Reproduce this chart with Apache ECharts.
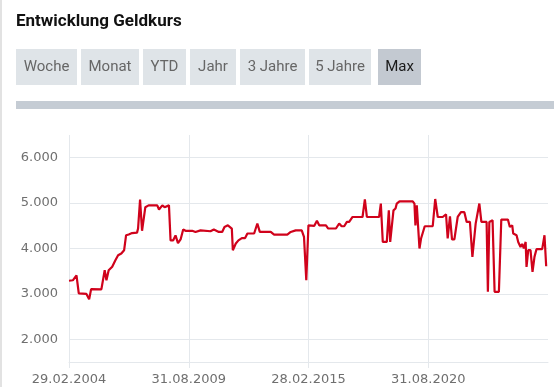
<!DOCTYPE html>
<html><head><meta charset="utf-8">
<script src="https://cdn.jsdelivr.net/npm/echarts@6/dist/echarts.min.js"></script>
<style>html,body{margin:0;padding:0;background:#fff}#c{width:554px;height:387px}</style>
</head><body><div id="c"></div>
<script>
const titleText = 'Entwicklung Geldkurs';
const buttonLabels = ['Woche','Monat','YTD','Jahr','3 Jahre','5 Jahre','Max'];
const activeButton = 'Max';
const xTickLabels = ['29.02.2004','31.08.2009','28.02.2015','31.08.2020'];
const yTickValues = [2000,3000,4000,5000,6000];
const priceDates = [
'2004-02-29','2004-05-03','2004-07-04','2004-08-12','2004-12-19','2005-02-03','2005-03-06','2005-08-26',
'2005-10-21','2005-11-19','2005-12-27','2006-02-23','2006-04-17','2006-06-02','2006-07-26','2006-09-11',
'2006-10-14','2006-11-27','2007-01-23','2007-04-15','2007-05-02','2007-06-05','2007-07-08','2007-08-04',
'2007-09-02','2007-10-27','2008-03-20','2008-04-18','2008-05-15','2008-06-13','2008-07-21','2008-08-19',
'2008-10-03','2008-10-30','2008-12-14','2009-01-22','2009-03-02','2009-04-15','2009-05-08','2009-05-29',
'2009-07-07','2009-10-28','2009-11-26','2009-12-22','2010-03-15','2010-08-30','2010-10-26','2011-01-18',
'2011-03-13','2011-04-21','2011-06-17','2011-07-16','2011-08-23','2011-09-09','2011-10-29','2011-12-12',
'2012-01-05','2012-02-08','2012-04-02','2012-05-10','2012-09-01','2012-10-25','2012-12-05','2013-06-06',
'2013-08-01','2014-03-10','2014-05-06','2014-07-29','2014-11-08','2014-12-16','2015-01-02','2015-01-24',
'2015-02-27','2015-06-06','2015-07-20','2015-08-28','2015-12-19','2016-01-27','2016-06-04','2016-07-28',
'2016-09-08','2016-10-21','2016-12-05','2017-01-13','2017-03-09','2017-08-24','2017-10-02','2017-11-05',
'2018-05-28','2018-06-26','2018-07-29','2018-10-05','2018-11-08','2018-12-01','2018-12-28','2019-01-26',
'2019-02-27','2019-03-20','2019-05-05','2019-12-14','2020-01-12','2020-01-29','2020-02-20','2020-04-05',
'2020-05-01','2020-05-29','2020-07-02','2020-11-14','2020-12-26','2021-02-07','2021-04-29','2021-06-24',
'2021-07-22','2021-08-30','2021-10-03','2021-11-12','2022-01-07','2022-03-01','2022-04-27','2022-06-05',
'2022-07-30','2022-09-10','2022-11-04','2022-12-02','2023-01-05','2023-02-08','2023-05-05','2023-05-27',
'2023-06-20','2023-07-11','2023-08-14','2023-09-17','2023-11-28','2024-01-08','2024-04-27','2024-05-30',
'2024-07-09','2024-07-26','2024-09-20','2024-10-18','2024-11-26','2024-12-24','2025-01-21','2025-02-19',
'2025-03-05','2025-04-03','2025-05-11','2025-06-14','2025-07-17','2025-08-20','2025-11-24','2026-01-02',
'2026-01-31'
];
const priceValues = [
3290,3300,3410,3010,3000,2880,3105,3100,
3520,3300,3520,3600,3740,3850,3890,3960,
4290,4310,4340,4350,4440,5080,4390,4390,
4910,4950,4950,4860,4860,4950,4910,4950,
4950,4180,4180,4290,4120,4200,4200,4420,
4390,4390,4420,4365,4400,4380,4420,4365,
4365,4475,4510,4480,4440,3960,4110,4180,
4145,4230,4230,4330,4330,4550,4365,4365,
4307,4307,4365,4400,4400,4255,4230,3300,
4510,4500,4610,4510,4510,4440,4440,4550,
4490,4490,4585,4585,4694,4694,5080,4694,
4694,4990,4145,4145,4840,4145,4145,4840,
4880,4990,5040,5040,4990,4510,4950,4000,
4220,4220,4490,4490,5090,4694,4694,4754,
4220,4710,4200,4200,4694,4800,4800,4585,
4585,3815,4549,4585,4990,4585,4585,3046,
4585,4620,4620,3046,3046,4637,4637,4475,
4510,4330,4293,4145,4035,4100,4000,4145,
3596,3963,3963,3486,3815,3985,3985,4292,
3610
];
function monthIndexParts(y, mo, d){
  const dim = new Date(Date.UTC(y, mo, 0)).getUTCDate();
  return (y-2004)*12 + (mo-1) + d/dim - 2;
}
function monthIndexIso(s){ const p = s.split('-').map(Number); return monthIndexParts(p[0], p[1], p[2]); }
function monthIndexDe(s){ const p = s.split('.').map(Number); return monthIndexParts(p[2], p[1], p[0]); }
const seriesData = priceDates.map((d,i)=>[monthIndexIso(d), priceValues[i]]);
const xTickValues = xTickLabels.map(monthIndexDe);
const xStep = Math.round(xTickValues[1] - xTickValues[0]);

const gridColor = '#e4e8ec';
const labelColor = '#6f6f6f';
const uiFont = 'Roboto';
const clear = 'rgba(0,0,0,0)';

// buttons
const btnX = [16,81,143,190,240,309,378];
const btnW = [61,58,43,46,65,62,43];
const graphics = [
  {type:'rect', shape:{x:0,y:0,width:2,height:387}, style:{fill:'#e2e2e2'}},
  {type:'text', x:16, y:13, style:{text:titleText, fill:'#111', font:'bold 17px '+uiFont}},
  {type:'rect', shape:{x:16,y:101,width:538,height:8}, style:{fill:'#c5ccd4'}}
];
buttonLabels.forEach((b,i)=>{
  const act = b===activeButton;
  graphics.push({type:'rect', shape:{x:btnX[i],y:49,width:btnW[i],height:36}, style:{fill: act?'#c3c9d1':'#dfe4e8'}});
  graphics.push({type:'text', x:btnX[i]+btnW[i]/2, y:67, style:{text:b, fill: act?'#1a1a1a':'#666', font:'15px '+uiFont, align:'center', verticalAlign:'middle'}});
});

const chart = echarts.init(document.getElementById('c'), null, {renderer:'canvas'});
chart.setOption({
  animation:false,
  graphic: graphics,
  grid:{left:69, right:6, top:135, bottom:25, containLabel:false},
  xAxis:{
    type:'value', min:0, max:xStep*4, interval:xStep,
    axisLine:{show:true, onZero:false, lineStyle:{color:gridColor, width:1}},
    axisTick:{show:true, length:6, lineStyle:{color:gridColor}},
    axisLabel:{show:true, color:labelColor, fontSize:13, fontFamily:'DejaVu Sans', margin:11, showMaxLabel:false,
      formatter:function(v){ const i = Math.round(v/xStep); return xTickLabels[i] || ''; }},
    splitLine:{show:true, lineStyle:{color:[gridColor,gridColor,gridColor,gridColor,clear], width:1}}
  },
  yAxis:{
    type:'value', min:1500, max:6500, interval:500,
    axisLine:{show:false},
    axisTick:{show:false},
    axisLabel:{color:labelColor, fontSize:13, fontFamily:'DejaVu Sans', margin:11,
      formatter:function(v){ return yTickValues.indexOf(v)>=0 ? v.toLocaleString('de-DE') : ''; }},
    splitLine:{show:true, lineStyle:{color:[clear,gridColor], width:1}}
  },
  series:[{
    type:'line', data:seriesData, showSymbol:false, symbol:'none',
    lineStyle:{color:'#d0021b', width:2.2}, itemStyle:{color:'#d0021b'}
  }]
});
</script></body></html>
